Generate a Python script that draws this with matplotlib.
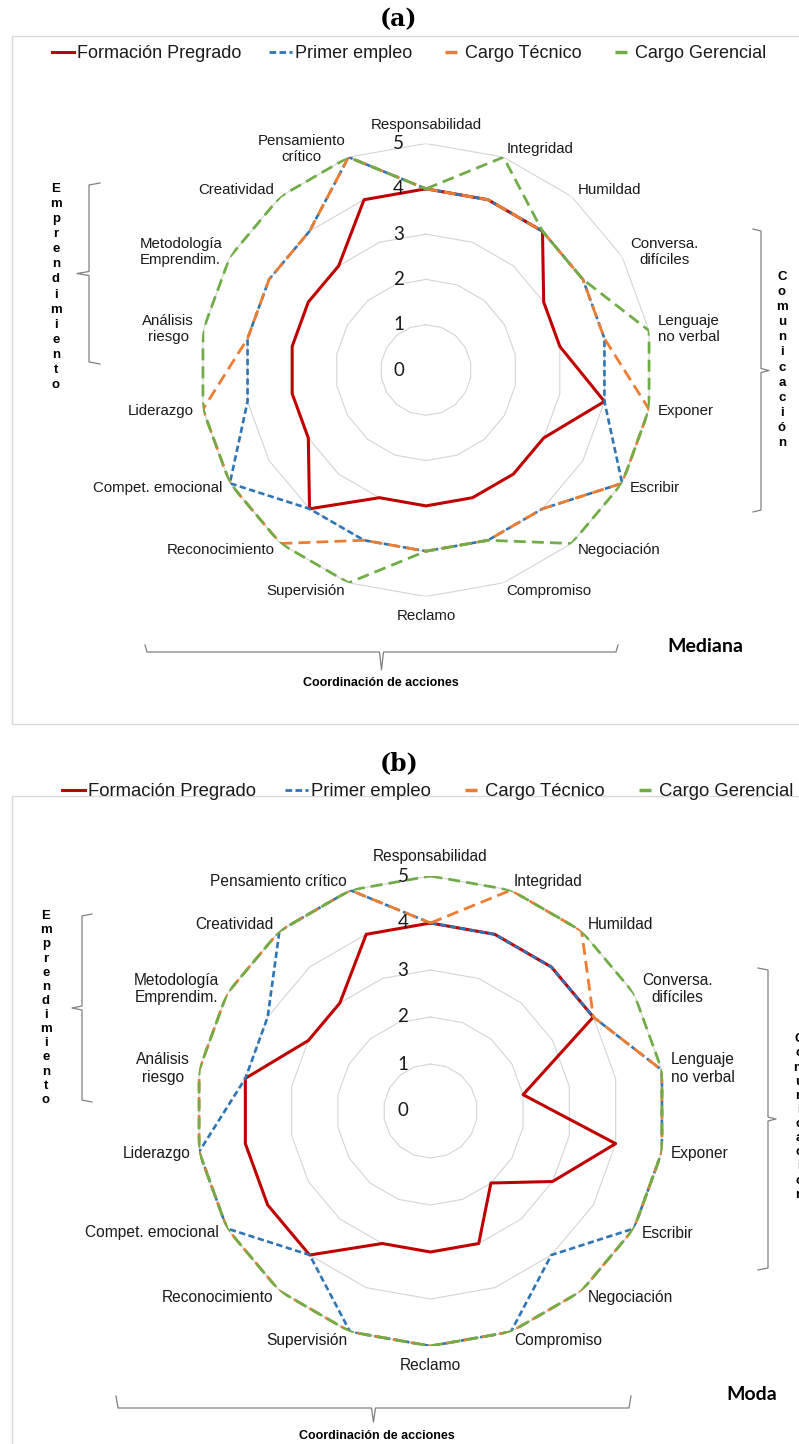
import numpy as np
import matplotlib
matplotlib.use('Agg')
import matplotlib.pyplot as plt
from matplotlib.lines import Line2D
from matplotlib.patches import Rectangle

plt.rcParams['font.family'] = ['Liberation Sans', 'DejaVu Sans']

# Competencias, en sentido horario desde arriba
competencias_a = ['Responsabilidad', 'Integridad', 'Humildad', 'Conversa.\ndifíciles',
                  'Lenguaje\nno verbal', 'Exponer', 'Escribir', 'Negociación', 'Compromiso',
                  'Reclamo', 'Supervisión', 'Reconocimiento', 'Compet. emocional', 'Liderazgo',
                  'Análisis\nriesgo', 'Metodología\nEmprendim.', 'Creatividad', 'Pensamiento\ncrítico']
competencias_b = competencias_a[:-1] + ['Pensamiento crítico']

series = ['Formación Pregrado', 'Primer empleo', 'Cargo Técnico', 'Cargo Gerencial']
niveles = [0, 1, 2, 3, 4, 5]

# (a) Mediana
pregrado_med = [4, 4, 4, 3, 3, 4, 3, 3, 3, 3, 3, 4, 3, 3, 3, 3, 3, 4]
primer_med = [4, 4, 4, 4, 4, 4, 5, 4, 4, 4, 4, 4, 5, 4, 4, 4, 4, 5]
tecnico_med = [4, 4, 4, 4, 4, 5, 5, 4, 4, 4, 4, 5, 5, 5, 4, 4, 4, 5]
gerencial_med = [4, 5, 4, 4, 5, 5, 5, 5, 4, 4, 5, 5, 5, 5, 5, 5, 5, 5]

# (b) Moda
pregrado_moda = [4, 4, 4, 4, 2, 4, 3, 2, 3, 3, 3, 4, 4, 4, 4, 3, 3, 4]
primer_moda = [4, 4, 4, 4, 5, 5, 5, 4, 5, 5, 5, 4, 5, 5, 4, 4, 5, 5]
tecnico_moda = [4, 5, 5, 4, 5, 5, 5, 5, 5, 5, 5, 5, 5, 5, 5, 5, 5, 5]
gerencial_moda = [5, 5, 5, 5, 5, 5, 5, 5, 5, 5, 5, 5, 5, 5, 5, 5, 5, 5]

ROJO = '#C00000'
AZUL = '#2E75B6'
NARANJA = '#ED7D31'
VERDE = '#70AD47'

estilos = [
    dict(color=ROJO, lw=2.2, zorder=3),
    dict(color=AZUL, lw=1.9, dashes=(2.4, 1.3), zorder=4),
    dict(color=NARANJA, lw=2.0, dashes=(4.3, 2.2), zorder=5),
    dict(color=VERDE, lw=2.0, dashes=(4.3, 2.2), zorder=6),
]

W, H = 799, 1444
fig = plt.figure(figsize=(W / 100, H / 100), dpi=100)

# capa de fondo en pixeles para marcos, llaves y textos
bg = fig.add_axes([0, 0, 1, 1])
bg.set_xlim(0, W)
bg.set_ylim(H, 0)
bg.axis('off')


def radar(cx, cy, r, cats, datos, fs_cat):
    ax = fig.add_axes([(cx - r) / W, 1 - (cy + r) / H, 2 * r / W, 2 * r / H], projection='polar')
    ax.set_theta_zero_location('N')
    ax.set_theta_direction(-1)
    ax.set_facecolor('none')
    ax.grid(False)
    ax.spines['polar'].set_visible(False)
    ax.set_xticks([])
    ax.set_yticks([])
    theta = np.linspace(0, 2 * np.pi, len(cats), endpoint=False)
    tc = np.append(theta, theta[0])
    for lv in niveles[1:]:
        ax.plot(tc, [lv] * len(tc), color='#d4d4d4', lw=0.8, zorder=1)
    for vals, st in zip(datos, estilos):
        ax.plot(tc, list(vals) + [vals[0]], **st)
    ax.set_ylim(0, 5)
    for lv in niveles:
        ax.annotate(str(lv), xy=(0, lv), xytext=(-27.5, 0), textcoords='offset pixels',
                    ha='center', va='center', fontsize=13.5, family='Lato', color='#1a1a1a',
                    annotation_clip=False, zorder=8)
    for t, lab in zip(theta, cats):
        s, c = np.sin(t), np.cos(t)
        if abs(s) < 0.01:
            ha, off = 'center', (0, 19 * c)
        else:
            ha, off = ('left' if s > 0 else 'right'), (9 * s, 9 * c)
        ax.annotate(lab, xy=(t, 5), xytext=off, textcoords='offset pixels', ha=ha, va='center',
                    multialignment='center', fontsize=fs_cat, color='#1a1a1a',
                    annotation_clip=False)
    return ax


def llave_v(x, y0, y1, h, t, color='#808080'):
    ym = (y0 + y1) / 2
    xs = [x + h, x, x, x - t, x, x, x + h]
    ys = [y0, y0 + 2, ym - 2, ym, ym + 2, y1 - 2, y1]
    bg.plot(xs, ys, color=color, lw=0.9)


def llave_h(y, x0, x1, h, t, color='#808080'):
    xm = (x0 + x1) / 2
    ys = [y - h, y, y, y + t, y, y, y - h]
    xs = [x0, x0 + 2, xm - 2, xm, xm + 2, x1 - 2, x1]
    bg.plot(xs, ys, color=color, lw=0.9)


def vertical(x, y, palabra, ls):
    bg.text(x, y, '\n'.join(palabra), ha='center', va='center', fontsize=9.5,
            fontweight='bold', linespacing=ls, color='black')


def leyenda(xc, yc, fs):
    handles = [
        Line2D([], [], color=ROJO, lw=2.2),
        Line2D([], [], color=AZUL, lw=2.0, dashes=(2.4, 1.2)),
        Line2D([], [], color=NARANJA, marker='_', ms=9, mew=2.5, ls='none'),
        Line2D([], [], color=VERDE, marker='_', ms=9, mew=2.5, ls='none'),
    ]
    fig.legend(handles, series, loc='center', bbox_to_anchor=(xc / W, 1 - yc / H), ncol=4,
               frameon=False, handlelength=1.25, handletextpad=0.15, columnspacing=1.55,
               prop=dict(family='Liberation Sans', size=fs), labelcolor='#1a1a1a')


# ---------- (a) Mediana ----------
bg.add_patch(Rectangle((12, 36), 830, 688, fill=False, ec='#d9d9d9', lw=1))
bg.text(399, 19, '(a)', ha='center', va='center', fontsize=17, fontweight='bold', family='DejaVu Serif')
leyenda(409, 54, 13)
radar(426, 370, 226.5, competencias_a, [pregrado_med, primer_med, tecnico_med, gerencial_med], 10.8)
llave_v(89, 183, 364, 11, 12)
vertical(56, 287, 'Emprendimiento', 1.35)
llave_v(761, 229, 512, -8, -8)
vertical(782, 360, 'Comunicación', 1.35)
llave_h(652, 145, 618, 7, 18)
bg.text(381, 683, 'Coordinación de acciones', ha='center', va='center', fontsize=9, fontweight='bold')
bg.text(705, 646, 'Mediana', ha='center', va='center', fontsize=14, fontweight='bold', family='Lato')

# ---------- (b) Moda ----------
bg.add_patch(Rectangle((12, 796), 830, 700, fill=False, ec='#d9d9d9', lw=1))
bg.text(399, 763, '(b)', ha='center', va='center', fontsize=17, fontweight='bold', family='DejaVu Serif')
leyenda(428, 792, 13.3)
radar(430.5, 1111, 235, competencias_b, [pregrado_moda, primer_moda, tecnico_moda, gerencial_moda], 11.2)
llave_v(82, 914, 1102, 10, 10)
vertical(46, 1008, 'Emprendimiento', 1.235)
llave_v(768, 968, 1270, -10, -8)
vertical(799, 1117, 'Comunicación', 1.235)
llave_h(1408, 116, 631, 12, 14)
bg.text(377, 1436, 'Coordinación de acciones', ha='center', va='center', fontsize=9, fontweight='bold')
bg.text(752, 1394, 'Moda', ha='center', va='center', fontsize=14, fontweight='bold', family='Lato')

fig.savefig('out.png', dpi=100)
